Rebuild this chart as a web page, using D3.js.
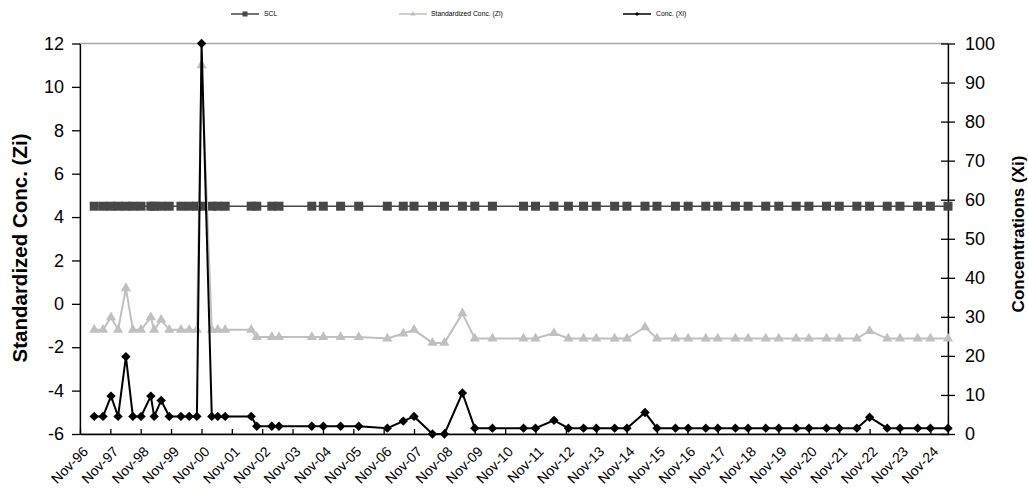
<!DOCTYPE html>
<html><head><meta charset="utf-8">
<script src="https://cdn.jsdelivr.net/npm/d3@7"></script>
<style>
html,body{margin:0;padding:0;background:#fff;}
svg{display:block;font-family:Arial,"Liberation Sans",sans-serif;}
</style></head>
<body>
<svg id="chart" width="1028" height="489"></svg>
<script>
// ---------- data ----------
const sampleDates = [
"1997-04-21","1997-08-05","1997-11-09","1998-02-02","1998-05-07","1998-07-30","1998-11-05",
"1999-03-03","1999-04-12","1999-07-05","1999-10-10",
"2000-02-28","2000-06-07","2000-09-07","2000-11-02",
"2001-03-05","2001-05-16","2001-08-13",
"2002-06-22","2002-08-28","2003-02-25","2003-05-22",
"2004-06-20","2004-11-05","2005-06-01","2006-01-05","2006-12-15","2007-06-25","2007-11-01",
"2008-06-10","2008-11-01","2009-06-05","2009-11-01","2010-06-01",
"2011-06-10","2011-11-01","2012-06-10","2012-12-01","2013-06-01","2013-11-01","2014-06-10","2014-11-05",
"2015-06-10","2015-11-01","2016-06-10","2016-11-10","2017-06-10","2017-11-01","2018-06-01","2018-11-01",
"2019-06-01","2019-11-05","2020-06-01","2020-11-01","2021-06-01","2021-11-01","2022-06-01","2022-11-01",
"2023-06-01","2023-11-01","2024-06-01","2024-11-01","2025-06-01"
];
const conc = [
4.5,4.5,9.7,4.5,19.8,4.5,4.5,
9.7,4.5,8.6,4.5,
4.5,4.5,4.5,100,
4.5,4.5,4.5,
4.5,2,2,2,
2,2,2,2,1.5,3.3,4.5,
0,0,10.5,1.5,1.5,
1.5,1.5,3.5,1.5,1.5,1.5,1.5,1.5,
5.5,1.5,1.5,1.5,1.5,1.5,1.5,1.5,
1.5,1.5,1.5,1.5,1.5,1.5,1.5,4.3,
1.5,1.5,1.5,1.5,1.5
];
const zScore = [
-1.2,-1.2,-0.62,-1.2,0.72,-1.2,-1.2,
-0.62,-1.2,-0.74,-1.2,
-1.2,-1.2,-1.2,11.0,
-1.2,-1.2,-1.2,
-1.2,-1.53,-1.53,-1.53,
-1.53,-1.53,-1.53,-1.53,-1.6,-1.37,-1.2,
-1.8,-1.8,-0.44,-1.6,-1.6,
-1.6,-1.6,-1.35,-1.6,-1.6,-1.6,-1.6,-1.6,
-1.08,-1.6,-1.6,-1.6,-1.6,-1.6,-1.6,-1.6,
-1.6,-1.6,-1.6,-1.6,-1.6,-1.6,-1.6,-1.25,
-1.6,-1.6,-1.6,-1.6,-1.6
];
const scl = [
4.5,4.5,4.5,4.5,4.5,4.5,4.5,
4.5,4.5,4.5,4.5,
4.5,4.5,4.5,4.5,
4.5,4.5,4.5,
4.5,4.5,4.5,4.5,
4.5,4.5,4.5,4.5,4.5,4.5,4.5,
4.5,4.5,4.5,4.5,4.5,
4.5,4.5,4.5,4.5,4.5,4.5,4.5,4.5,
4.5,4.5,4.5,4.5,4.5,4.5,4.5,4.5,
4.5,4.5,4.5,4.5,4.5,4.5,4.5,4.5,
4.5,4.5,4.5,4.5,4.5
];
const xTickLabels = ["Nov-96","Nov-97","Nov-98","Nov-99","Nov-00","Nov-01","Nov-02","Nov-03","Nov-04","Nov-05",
"Nov-06","Nov-07","Nov-08","Nov-09","Nov-10","Nov-11","Nov-12","Nov-13","Nov-14","Nov-15","Nov-16","Nov-17",
"Nov-18","Nov-19","Nov-20","Nov-21","Nov-22","Nov-23","Nov-24"];
const leftTicks = [-6,-4,-2,0,2,4,6,8,10,12];
const rightTicks = [0,10,20,30,40,50,60,70,80,90,100];
const seriesNames = ["SCL","Standardized Conc. (Zi)","Conc. (Xi)"];
const leftTitle = "Standardized Conc. (Zi)";
const rightTitle = "Concentrations (Xi)";

// ---------- layout ----------
const L = 80, R = 948, T = 43.5, B = 434;
const FONT = "Arial, 'Liberation Sans', sans-serif";
const parseD = d3.timeParse("%Y-%m-%d");
const parseTick = d3.timeParse("%b-%y");
const dates = sampleDates.map(parseD);
const tickDates = xTickLabels.map(parseTick);

const x = d3.scaleTime().domain([tickDates[0], dates[dates.length-1]]).range([L, R]);
const yL = d3.scaleLinear().domain([-6, 12]).range([B, T]);
const yR = d3.scaleLinear().domain([0, 100]).range([B, T]);

const svg = d3.select("#chart");

// plot area border
svg.append("rect").attr("x", L).attr("y", T).attr("width", R - L).attr("height", B - T)
  .attr("fill", "none").attr("stroke", "#a6a6a6").attr("stroke-width", 1.5);

// left axis
const gL = svg.append("g").attr("transform", `translate(${L},0)`)
  .call(d3.axisLeft(yL).tickValues(leftTicks).tickFormat(d => String(d)).tickSize(8).tickSizeOuter(0).tickPadding(8));
gL.selectAll("text").attr("font-size", 18).attr("fill", "#000").attr("font-family", FONT);
gL.selectAll("line,path").attr("stroke", "#000").attr("stroke-width", 1.3);

// right axis
const gR = svg.append("g").attr("transform", `translate(${R},0)`)
  .call(d3.axisRight(yR).tickValues(rightTicks).tickFormat(d => String(d)).tickSize(7).tickSizeOuter(0).tickPadding(10));
gR.selectAll(".tick line").attr("x1", -7);
gR.selectAll("text").attr("font-size", 18).attr("fill", "#000").attr("font-family", FONT);
gR.selectAll("line,path").attr("stroke", "#000").attr("stroke-width", 1.3);

// bottom axis
const gB = svg.append("g").attr("transform", `translate(0,${B})`)
  .call(d3.axisBottom(x).tickValues(tickDates).tickFormat((d, i) => xTickLabels[i]).tickSizeInner(-5).tickSizeOuter(0));
gB.selectAll("line,path").attr("stroke", "#000").attr("stroke-width", 1.3);
gB.selectAll("text")
  .attr("font-size", 14).attr("fill", "#000").attr("font-family", FONT)
  .attr("text-anchor", "end").attr("dy", "0.35em").attr("y", 0)
  .attr("transform", "translate(5,15) rotate(-45)");

// axis titles
svg.append("text").attr("transform", `translate(20,248) rotate(-90)`)
  .attr("text-anchor", "middle").attr("dy", "0.35em").attr("font-size", 20.5).attr("font-weight", "bold")
  .attr("font-family", FONT).text(leftTitle);
svg.append("text").attr("transform", `translate(1018,234) rotate(-90)`)
  .attr("text-anchor", "middle").attr("dy", "0.35em").attr("font-size", 17).attr("font-weight", "bold")
  .attr("font-family", FONT).text(rightTitle);

// series
const sclColor = "#474747", zColor = "#c0c0c0", xColor = "#000000";
const lineL = d3.line().x((d, i) => x(dates[i])).y(d => yL(d));
const lineR = d3.line().x((d, i) => x(dates[i])).y(d => yR(d));

const gS = svg.append("g");
gS.append("path").datum(scl).attr("d", lineL).attr("fill", "none").attr("stroke", sclColor).attr("stroke-width", 1.6);
gS.selectAll("rect").data(scl).join("rect")
  .attr("x", (d, i) => x(dates[i]) - 4.5).attr("y", d => yL(d) - 4.5)
  .attr("width", 9).attr("height", 9).attr("fill", sclColor);

const gZ = svg.append("g");
gZ.append("path").datum(zScore).attr("d", lineL).attr("fill", "none").attr("stroke", zColor).attr("stroke-width", 2);
const tri = d3.symbol().type(d3.symbolTriangle).size(45);
gZ.selectAll("path.m").data(zScore).join("path").attr("class", "m")
  .attr("d", tri).attr("transform", (d, i) => `translate(${x(dates[i])},${yL(d)})`)
  .attr("fill", zColor);

const gX = svg.append("g");
gX.append("path").datum(conc).attr("d", lineR).attr("fill", "none").attr("stroke", xColor).attr("stroke-width", 2);
gX.selectAll("path.m").data(conc).join("path").attr("class", "m")
  .attr("d", d3.symbol().type(d3.symbolSquare).size(44))
  .attr("transform", (d, i) => `translate(${x(dates[i])},${yR(d)}) rotate(45)`)
  .attr("fill", xColor);

// legend
const legendItems = [
  {name: seriesNames[0], x0: 231, color: sclColor, type: "square", tx: 264},
  {name: seriesNames[1], x0: 399, color: zColor, type: "triangle", tx: 431},
  {name: seriesNames[2], x0: 623, color: xColor, type: "diamond", tx: 656}
];
const gLeg = svg.append("g");
legendItems.forEach(it => {
  const g = gLeg.append("g");
  g.append("line").attr("x1", it.x0).attr("x2", it.x0 + 28).attr("y1", 14).attr("y2", 14)
    .attr("stroke", it.color).attr("stroke-width", 1.5);
  const cx = it.x0 + 14;
  if (it.type === "square") g.append("rect").attr("x", cx - 2.5).attr("y", 11.5).attr("width", 5).attr("height", 5).attr("fill", it.color);
  if (it.type === "triangle") g.append("path").attr("d", d3.symbol().type(d3.symbolTriangle).size(12)).attr("transform", `translate(${cx},14)`).attr("fill", it.color);
  if (it.type === "diamond") g.append("path").attr("d", d3.symbol().type(d3.symbolSquare).size(8)).attr("transform", `translate(${cx},14) rotate(45)`).attr("fill", it.color);
  g.append("text").attr("x", it.tx).attr("y", 14).attr("dy", "0.35em").attr("font-size", 6.8).attr("fill", "#000")
    .attr("font-family", FONT).text(it.name);
});
</script>
</body></html>
